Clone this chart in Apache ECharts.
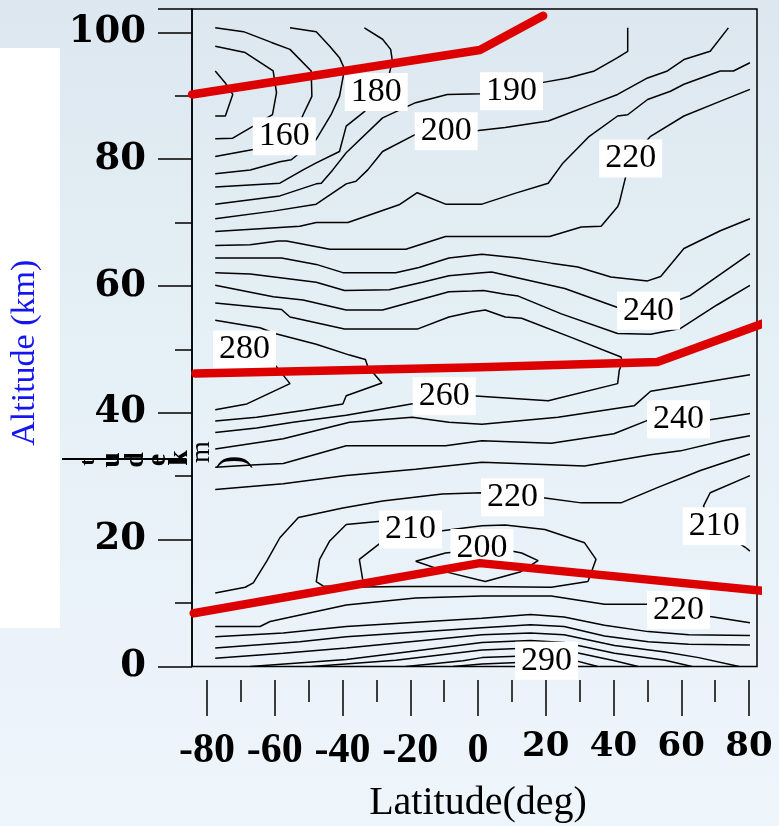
<!DOCTYPE html>
<html><head><meta charset="utf-8">
<script src="https://cdn.jsdelivr.net/npm/echarts@6/dist/echarts.min.js"></script>
<style>
html,body{margin:0;padding:0;width:779px;height:826px;overflow:hidden;
background:linear-gradient(to bottom,#dce7ef 0%,#e6f0f7 45%,#eef5fb 100%);}
#white{position:absolute;left:0;top:48px;width:60px;height:580px;background:#fff;}
#c{position:absolute;left:0;top:0;width:779px;height:826px;}
</style></head><body>
<div id="white"></div>
<div id="c"></div>
<script>
// ---- data (latitude deg, altitude km) ----
const yTicks = [0, 20, 40, 60, 80, 100];
const xTicks = [-80, -60, -40, -20, 0, 20, 40, 60, 80];

const iso140 = [[-78.6,93.9],[-75.6,92.0],[-73.4,90.2],[-75.6,86.8],[-78.6,86.8]];
const iso150 = [[-78.6,97.8],[-69.7,96.8],[-61.4,93.9],[-60.4,90.5],[-61.6,87.0],[-67.3,85.2],[-73.4,83.3],[-78.6,83.2]];
const iso160 = [[-78.6,100.7],[-70.2,100.1],[-61.9,98.4],[-56.4,97.3],[-50.1,93.9],[-49.9,89.9],[-52.5,87.0],[-55.5,83.1],[-67.3,81.5],[-78.6,80.4]];
const iso170 = [[-56.4,100.7],[-48.6,100.1],[-44.6,97.8],[-41.7,96.0],[-40.2,94.2],[-41.7,89.9],[-44.2,87.0],[-48.6,83.1],[-56.0,79.9],[-59.4,79.6],[-68.2,78.3],[-78.6,77.7]];
const iso180 = [[-34.3,100.7],[-28.9,98.9],[-26.5,97.3],[-26.0,95.5],[-28.0,91.0],[-34.3,87.5],[-39.7,85.2],[-41.7,81.2],[-48.6,79.4],[-52.5,78.3],[-59.4,76.2],[-78.6,75.6]];
const iso190 = [[-78.6,72.9],[-59.4,74.2],[-48.6,76.1],[-47.1,76.2],[-43.7,78.3],[-39.7,81.0],[-28.9,86.5],[-19.1,88.9],[-9.7,90.2],[0.6,90.3],[9.4,90.7],[18.8,92.1],[26.2,92.8],[34.0,93.9],[40.9,96.0],[43.9,97.0],[43.9,100.7]];
const iso200 = [[-78.6,70.6],[-61.4,71.8],[-48.6,72.9],[-39.7,76.1],[-36.8,76.5],[-33.3,78.3],[-28.9,81.2],[-19.1,83.9],[-10.0,84.4],[-0.4,84.5],[7.5,85.0],[20.3,86.0],[25.2,87.0],[33.0,88.6],[40.9,90.2],[49.8,92.8],[55.7,93.9],[60.6,95.7],[68.4,97.0],[73.8,100.7]];
const iso210 = [[-78.6,68.6],[-53.5,69.4],[-48.6,70.0],[-39.2,70.0],[-24.0,72.8],[-18.6,74.7],[-10.2,72.9],[0.6,72.9],[10.4,74.6],[20.3,76.2],[24.7,79.4],[32.5,83.6],[40.9,86.8],[43.9,87.0],[49.8,89.4],[56.6,90.7],[60.6,91.8],[71.4,93.9],[75.3,93.9],[80.2,95.2]];
const iso220 = [[-78.6,66.4],[-68.2,66.5],[-59.9,67.1],[-57.4,67.1],[-44.6,65.8],[-22.0,65.8],[-10.2,67.8],[0.6,67.8],[20.7,67.8],[30.1,69.3],[36.0,69.4],[40.9,72.5],[41.4,73.1],[43.2,77.0],[44.8,80.1],[50.7,83.6],[60.6,86.8],[70.4,88.9],[80.2,91.0]];
const iso230 = [[-78.6,64.4],[-58.9,64.4],[-48.6,63.4],[-40.7,62.1],[-25.0,62.1],[-18.1,62.9],[-9.2,64.4],[0.6,65.0],[11.4,64.4],[21.2,63.6],[29.1,63.0],[38.9,61.4],[49.8,60.8],[53.7,61.5],[60.6,65.9],[71.4,68.7],[80.2,70.6]];
const iso240 = [[-78.6,62.1],[-68.2,61.9],[-48.6,60.6],[-40.2,59.3],[-26.9,59.4],[-17.1,60.6],[-9.2,61.6],[0.6,62.1],[3.5,62.2],[25.2,59.6],[40.9,56.6],[50.1,56.1],[59.1,57.8],[62.5,58.5],[80.2,65.1]];
const iso250 = [[-78.6,60.1],[-61.4,58.3],[-52.5,57.8],[-39.7,56.2],[-28.9,56.2],[-9.2,59.1],[-2.4,59.2],[1.1,59.3],[7.5,58.7],[11.4,58.4],[24.2,55.6],[40.9,52.5],[50.7,52.4],[59.6,53.3],[70.4,57.0],[80.2,60.1]];
const iso260 = [[-78.6,57.3],[-58.9,56.3],[-56.4,55.1],[-40.2,53.2],[-18.6,53.2],[-9.2,55.1],[-2.4,55.9],[1.6,56.2],[7.5,55.1],[12.4,54.9],[27.1,51.9],[41.9,48.8],[42.4,48.0],[41.4,46.7],[40.9,44.6],[20.3,41.9],[-2.4,42.7],[-10.6,42.6],[-19.1,41.5],[-39.7,39.6],[-55.5,38.5],[-66.3,37.6],[-78.6,36.9]];
const iso270 = [[-78.6,54.6],[-65.3,53.4],[-60.9,52.5],[-48.6,50.8],[-38.7,49.1],[-34.0,48.4],[-33.3,47.3],[-29.1,44.7],[-39.7,42.7],[-40.7,41.4],[-52.0,40.4],[-66.3,39.3],[-78.6,38.7]];
const iso280 = [[-78.6,50.8],[-70.0,50.3],[-63.0,49.2],[-60.9,47.6],[-56.4,44.6],[-69.2,41.4],[-78.6,40.5]];
const iso250s = [[-78.6,34.3],[-58.4,35.9],[-38.7,38.5],[-20.1,39.3],[-9.2,38.5],[0.6,38.2],[23.2,39.3],[45.8,41.1],[50.7,43.4],[80.2,46.0]];
const iso240s = [[-78.6,31.4],[-66.4,31.8],[-58.4,32.0],[-39.7,34.8],[-10.2,34.8],[0.6,35.6],[21.2,35.2],[39.8,36.7],[49.8,38.8],[59.0,39.0],[68.4,38.9],[80.2,39.9]];
const iso230s = [[-78.6,27.9],[-58.4,28.8],[-39.7,30.1],[-19.1,31.1],[0.6,32.2],[31.1,31.6],[50.7,33.4],[59.6,34.0],[72.3,35.6],[80.2,36.4]];
const iso220s = [[-78.6,11.6],[-69.7,12.5],[-67.3,13.2],[-63.3,16.6],[-59.4,20.3],[-53.9,23.5],[-40.7,25.0],[-28.9,26.1],[-11.2,27.2],[0.6,27.4],[9.7,26.7],[18.8,26.6],[30.1,25.8],[41.9,25.8],[52.7,28.2],[65.5,30.9],[80.2,33.5]];
const iso210loop = [[-20.6,21.6],[-11.2,21.4],[0.6,22.2],[7.5,22.3],[19.3,21.6],[31.1,19.5],[34.5,16.9],[32.1,13.4],[21.2,12.5],[-2.4,12.6],[-23.0,12.6],[-40.0,12.5],[-46.6,12.7],[-48.6,13.4],[-47.6,16.9],[-44.6,19.8],[-39.7,22.4],[-29.5,22.9],[-20.6,21.6]];
const iso210arc = [[-29.5,19.5],[-35.8,16.9],[-34.8,13.7]];
const iso200loop = [[-19.1,16.6],[-10.2,17.9],[0.6,18.5],[9.4,18.2],[12.4,17.9],[17.3,16.7],[11.9,14.9],[1.6,13.4],[-9.2,14.8],[-19.1,16.6]];
const iso210right = [[80.2,30.1],[68.4,27.4],[66.4,25.3],[69.6,22.1],[78.8,18.8],[80.2,18.2]];
const iso220t = [[-78.6,6.3],[-65.3,6.3],[-62.3,7.1],[-39.7,9.7],[-19.1,10.8],[0.6,11.1],[21.2,11.1],[37.0,9.8],[49.8,9.8],[59.0,8.9],[68.4,7.9],[80.2,6.9]];
const iso230t = [[-78.6,4.7],[-58.4,5.3],[-39.7,6.3],[0.6,7.6],[15,8.2],[25,7.8],[37,6.5],[50,5.5],[62,5.0],[80.2,4.9]];
const iso240t = [[-78.6,2.9],[-53.5,3.9],[-39.7,4.7],[0.6,6.1],[15,6.6],[25,6.3],[37,4.8],[50,3.9],[62,3.5],[80.2,3.4]];
const iso250t = [[-78.6,1.3],[-58.4,2.1],[-39.7,2.9],[0.6,5.0],[15,5.3],[25,5.0],[40,3.3],[55,2.3],[65,1.4],[77,0]];
const iso260t = [[-68.2,0],[-39.7,1.1],[-20,2.4],[0.6,3.8],[15,4.1],[25,3.8],[40,2.1],[55,1.0],[63,0]];
const iso270t = [[-50,0],[-25,1.0],[0.6,2.6],[15,2.9],[25,2.6],[40,0.9],[47,0]];
const iso280t = [[-22,0],[-5,0.9],[0.6,1.4],[15,1.7],[25,1.4],[35,0]];
const iso290t = [[-8,0],[0.6,0.4],[15,0.7],[28,0]];

const contours = [iso140,iso150,iso160,iso170,iso180,iso190,iso200,iso210,iso220,iso230,iso240,iso250,iso260,iso270,iso280,
  iso250s,iso240s,iso230s,iso220s,iso210loop,iso210arc,iso200loop,iso210right,
  iso220t,iso230t,iso240t,iso250t,iso260t,iso270t,iso280t,iso290t];

const labelText = ['160','180','190','200','220','240','280','260','240','220','210','200','210','220','290'];
const labelLat  = [-58.1,-30.8,9.4,-10.0,44.8,50.1,-69.9,-10.6,59.0,9.7,-20.6,0.6,69.6,59.0,19.8];
const labelAlt  = [83.6,90.6,90.7,84.4,80.1,56.1,50.0,42.6,39.0,26.7,21.6,18.7,22.1,8.9,0.9];

const redMesopause   = [[-85.5,90.2],[0,97.2],[18.8,102.6]];
const redStratopause = [[-84.5,46.2],[0,47.2],[52.7,48.0],[85.2,54.3]];
const redTropopause  = [[-85.0,8.4],[0,16.3],[84.7,11.9]];

// ---- chart ----
const chart = echarts.init(document.getElementById('c'), null, {renderer:'canvas'});
const series = [];
contours.forEach(d => series.push({
  type:'line', xAxisIndex:0, yAxisIndex:0, data:d, showSymbol:false, symbol:'none',
  lineStyle:{color:'#000', width:1.5}, silent:true, animation:false, z:2
}));
series.push({
  type:'scatter', xAxisIndex:0, yAxisIndex:0, symbolSize:2, itemStyle:{color:'rgba(0,0,0,0)'}, z:5, silent:true,
  data: labelText.map((t,i)=>[labelLat[i], labelAlt[i], t]),
  labelLayout:{hideOverlap:false},
  label:{show:true, position:'inside', formatter:p=>p.value[2], backgroundColor:'#fff', opacity:1,
    padding:[2,6,0,6], fontFamily:'Liberation Serif', fontSize:34, lineHeight:36, color:'#000'}
});
[redMesopause, redStratopause, redTropopause].forEach(d => series.push({
  type:'line', xAxisIndex:0, yAxisIndex:0, data:d, showSymbol:false, symbol:'none', clip:false,
  lineStyle:{color:'#dd0000', width:8.5, cap:'round', join:'round'}, silent:true, z:8, animation:false
}));

chart.setOption({
  animation:false,
  backgroundColor:'transparent',
  grid:[
    {left:188, top:9, width:569, height:657.5, show:true, borderColor:'#000', borderWidth:1.5, backgroundColor:'transparent'},
    {left:207, top:679, width:542, height:1, show:false}
  ],
  xAxis:[
    {type:'value', gridIndex:0, min:-85.5, max:82.3, show:false},
    {type:'value', gridIndex:1, min:-80, max:80, interval:20,
      axisLine:{show:false, onZero:false}, splitLine:{show:false},
      axisTick:{show:true, length:36, lineStyle:{color:'#000', width:1.5}},
      minorTick:{show:true, splitNumber:2, length:22, lineStyle:{color:'#000', width:1.5}},
      axisLabel:{margin:50, formatter:v => (v<=0 ? '{n|'+v+'}' : '{p|'+v+'}'),
        rich:{n:{fontFamily:'Liberation Serif', fontSize:42, fontWeight:'bold', color:'#000'},
              p:{fontFamily:'DejaVu Serif', fontSize:34, fontWeight:'bold', color:'#000'}}},
      name:'Latitude(deg)', nameLocation:'middle', nameGap:103,
      nameTextStyle:{fontFamily:'Liberation Serif', fontSize:40, color:'#000'}
    }
  ],
  yAxis:[
    {type:'value', gridIndex:0, min:0, max:103.67, interval:20,
      axisLine:{show:true, onZero:false, lineStyle:{color:'#000', width:1.5}}, splitLine:{show:false},
      axisTick:{show:true, length:34, lineStyle:{color:'#000', width:1.5}},
      minorTick:{show:true, splitNumber:2, length:17, lineStyle:{color:'#000', width:1.5}},
      axisLabel:{margin:46, showMaxLabel:false, fontFamily:'DejaVu Serif', fontSize:37, fontWeight:'bold', color:'#000',
        formatter:v => (yTicks.indexOf(v)>=0 ? String(v) : '')},
      name:'Altitude (km)', nameLocation:'middle', nameGap:150, nameRotate:90,
      nameTextStyle:{fontFamily:'Liberation Serif', fontSize:34, color:'#1515f0', padding:[0,30,0,0]}
    },
    {type:'value', gridIndex:1, show:false, min:0, max:1}
  ],
  graphic:[
    {type:'line', shape:{x1:62, y1:459, x2:186, y2:459}, style:{stroke:'#000', lineWidth:2}, z:20},
    {type:'text', x:88, y:462, rotation:Math.PI/2, style:{text:'t', fontSize:22, fontFamily:'Liberation Serif', fontWeight:'bold', fill:'#000', verticalAlign:'middle', align:'center'}, z:20},
    {type:'text', x:112, y:460, rotation:Math.PI/2, style:{text:'u', fontSize:28, fontFamily:'Liberation Serif', fontWeight:'bold', fill:'#000', verticalAlign:'middle', align:'center'}, z:20},
    {type:'text', x:136, y:460, rotation:Math.PI/2, style:{text:'d', fontSize:28, fontFamily:'Liberation Serif', fontWeight:'bold', fill:'#000', verticalAlign:'middle', align:'center'}, z:20},
    {type:'text', x:158, y:460, rotation:Math.PI/2, style:{text:'e', fontSize:28, fontFamily:'Liberation Serif', fontWeight:'bold', fill:'#000', verticalAlign:'middle', align:'center'}, z:20},
    {type:'text', x:180, y:458, rotation:Math.PI/2, style:{text:'k', fontSize:28, fontFamily:'Liberation Serif', fontWeight:'bold', fill:'#000', verticalAlign:'middle', align:'center'}, z:20},
    {type:'text', x:202, y:452, rotation:Math.PI/2, style:{text:'m', fontSize:28, fontFamily:'Liberation Serif', fill:'#000', verticalAlign:'middle', align:'center'}, z:20},
    {type:'text', x:233, y:462, rotation:Math.PI/2, style:{text:')', fontSize:40, fontFamily:'Liberation Serif', fill:'#000', verticalAlign:'middle', align:'center'}, z:20}
  ],
  series: series
});
</script>
</body></html>
